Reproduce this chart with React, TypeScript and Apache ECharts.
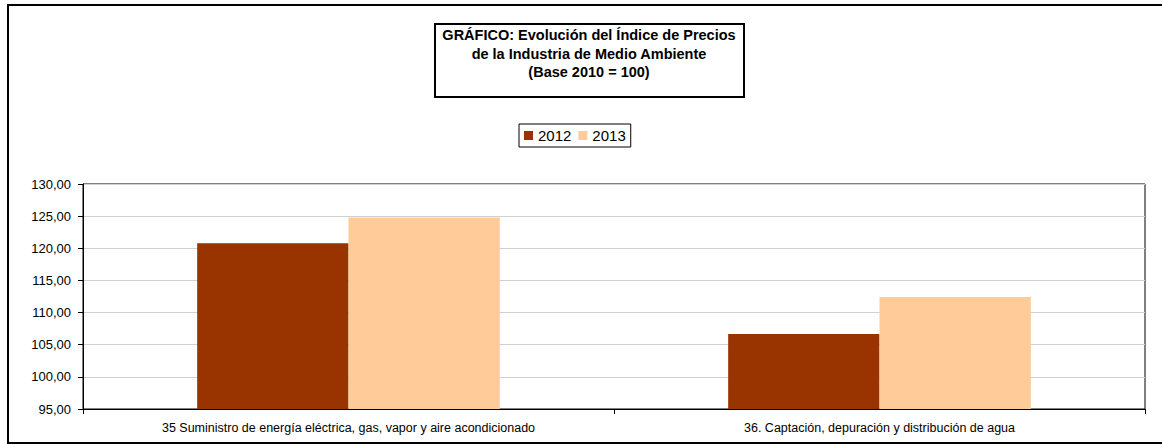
import React, { useEffect, useRef } from "react";
import * as echarts from "echarts";

const categories = [
  "35 Suministro de energía eléctrica, gas, vapor y aire acondicionado",
  "36. Captación, depuración y distribución de agua",
];
const series2012 = [120.78, 106.66];
const series2013 = [124.79, 112.42];
const seriesNames = ["2012", "2013"];
const titleLines = [
  "GRÁFICO: Evolución del Índice de Precios",
  "de la Industria de Medio Ambiente",
  "(Base 2010 = 100)",
];

export default function App() {
  const ref = useRef<HTMLDivElement>(null);
  useEffect(() => {
    if (!ref.current) return;
    const chart = echarts.init(ref.current, null, { renderer: "svg" });
    chart.setOption({
      animation: false,
      backgroundColor: "#fff",
      textStyle: { fontFamily: "Arial, 'Liberation Sans', sans-serif" },
      grid: {
        left: 83,
        top: 184,
        right: 17,
        bottom: 35,
        show: true,
        borderColor: "#000",
        borderWidth: 1,
        backgroundColor: "transparent",
      },
      legend: {
        data: seriesNames,
        left: 519,
        top: 124,
        padding: [4, 5, 4, 5],
        itemGap: 7,
        itemWidth: 9,
        itemHeight: 9,
        icon: "rect",
        borderColor: "#000",
        borderWidth: 1,
        textStyle: {
          fontSize: 15,
          color: "#000",
          fontFamily: "Arial, 'Liberation Sans', sans-serif",
        },
      },
      xAxis: {
        type: "category",
        data: categories,
        boundaryGap: true,
        axisLine: { lineStyle: { color: "#000", width: 1 } },
        axisTick: { show: true, length: 5, lineStyle: { color: "#000" } },
        axisLabel: {
          fontSize: 12.5,
          color: "#000",
          margin: 12,
          interval: 0,
          fontFamily: "Arial, 'Liberation Sans', sans-serif",
        },
        splitLine: { show: false },
      },
      yAxis: {
        type: "value",
        min: 95,
        max: 130,
        interval: 5,
        axisLine: { show: true, lineStyle: { color: "#000", width: 1 } },
        axisTick: { show: true, length: 5, lineStyle: { color: "#000" } },
        axisLabel: {
          fontSize: 13,
          color: "#000",
          margin: 12,
          formatter: (v: number) => v.toFixed(2).replace(".", ","),
          fontFamily: "Arial, 'Liberation Sans', sans-serif",
        },
        splitLine: { show: true, lineStyle: { color: "#d0d0d0", width: 1 } },
      },
      series: [
        {
          name: seriesNames[0],
          type: "bar",
          data: series2012,
          barGap: "0%",
          barCategoryGap: "43%",
          itemStyle: { color: "#993300" },
        },
        {
          name: seriesNames[1],
          type: "bar",
          data: series2013,
          barGap: "0%",
          barCategoryGap: "43%",
          itemStyle: { color: "#FFCC99" },
        },
      ],
      graphic: [
        {
          type: "rect",
          silent: true,
          shape: { x: 8, y: 5, width: 1170, height: 438 },
          style: { fill: "none", stroke: "#000", lineWidth: 2 },
          z: 100,
        },
        {
          type: "rect",
          silent: true,
          shape: { x: 435, y: 24, width: 309, height: 73 },
          style: { fill: "#fff", stroke: "#000", lineWidth: 2 },
          z: 100,
        },
        {
          type: "text",
          silent: true,
          x: 589,
          y: 26,
          z: 101,
          style: {
            text: titleLines.join("\n"),
            textAlign: "center",
            textVerticalAlign: "top",
            fontSize: 14.5,
            fontWeight: "bold",
            lineHeight: 18.5,
            fill: "#000",
            fontFamily: "Arial, 'Liberation Sans', sans-serif",
          },
        },
      ],
    });
    return () => chart.dispose();
  }, []);
  return (
    <div
      ref={ref}
      style={{ position: "fixed", left: 0, top: 0, width: 1162, height: 444 }}
    />
  );
}
